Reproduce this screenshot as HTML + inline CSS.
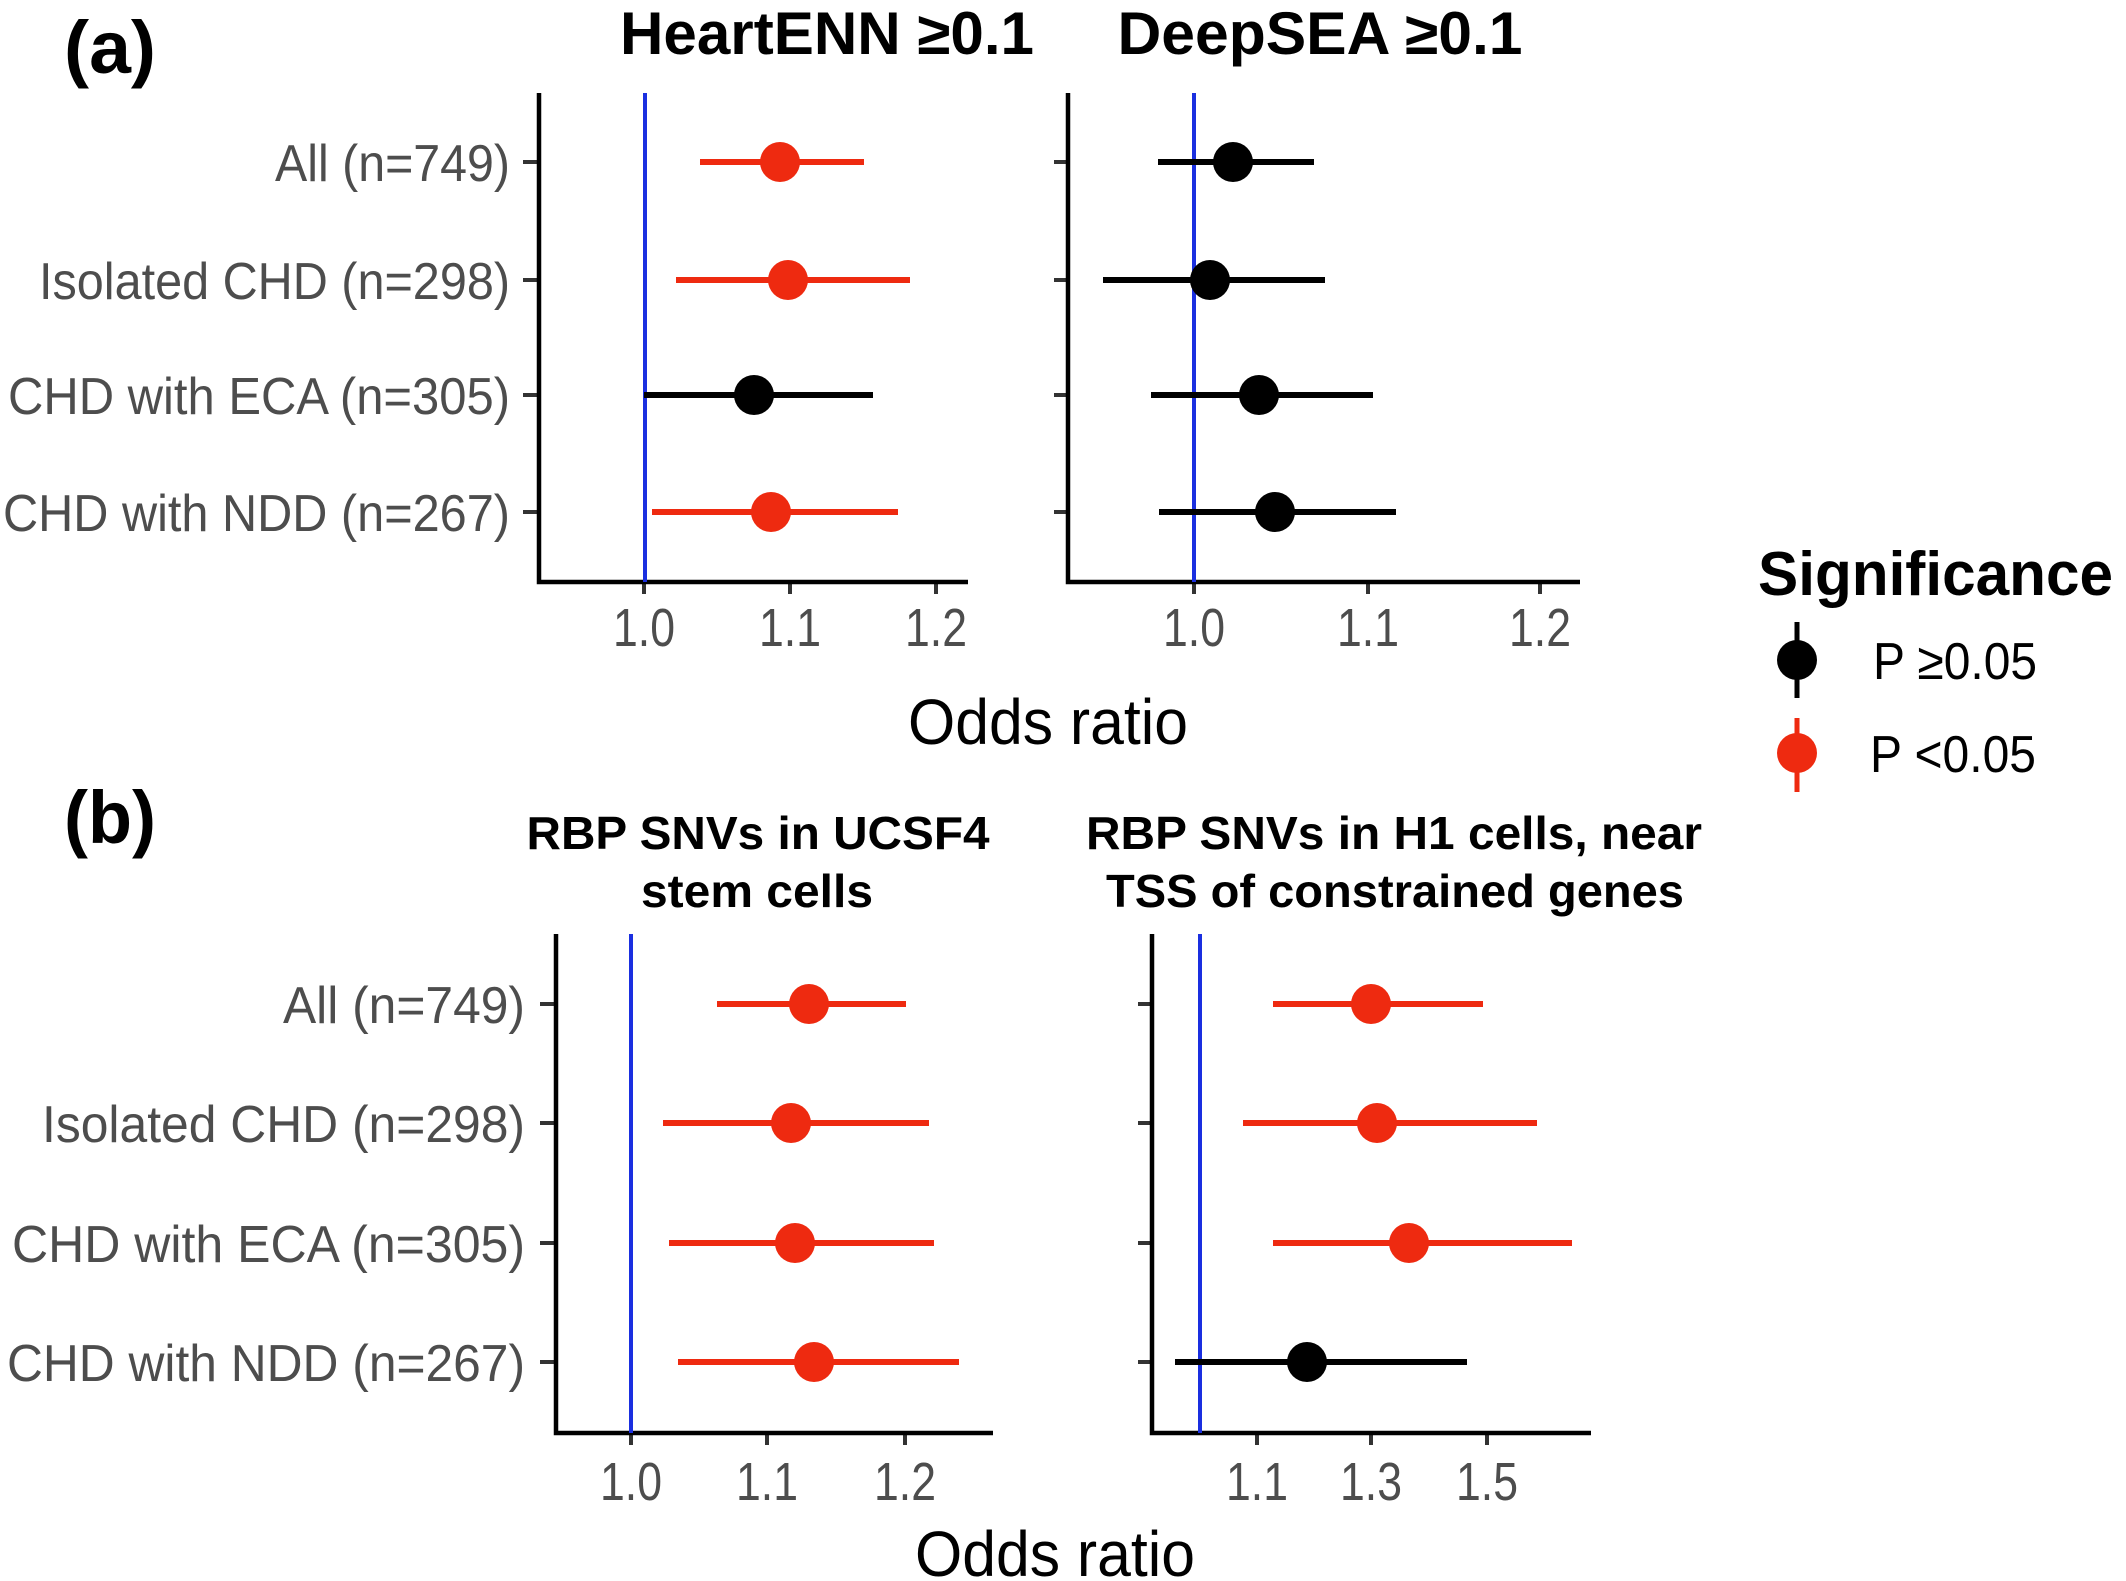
<!DOCTYPE html>
<html><head><meta charset="utf-8"><style>html,body{margin:0;padding:0;background:#fff}svg{display:block}</style></head><body>
<svg width="2126" height="1581" viewBox="0 0 2126 1581" xmlns="http://www.w3.org/2000/svg" font-family="Liberation Sans, Arial, sans-serif">
<rect width="2126" height="1581" fill="#fff"/>
<!-- (a) -->
<text x="64" y="73" font-size="74" font-weight="bold" fill="#000" textLength="92" lengthAdjust="spacingAndGlyphs">(a)</text>
<text x="827" y="54" font-size="60" font-weight="bold" text-anchor="middle" textLength="414" lengthAdjust="spacingAndGlyphs">HeartENN ≥0.1</text>
<text x="1320" y="54" font-size="60" font-weight="bold" text-anchor="middle" textLength="405" lengthAdjust="spacingAndGlyphs">DeepSEA ≥0.1</text>
<g fill="#4d4d4d" font-size="52" text-anchor="end">
<text x="510" y="181" textLength="235" lengthAdjust="spacingAndGlyphs">All (n=749)</text>
<text x="510" y="299" textLength="471" lengthAdjust="spacingAndGlyphs">Isolated CHD (n=298)</text>
<text x="510" y="414" textLength="502" lengthAdjust="spacingAndGlyphs">CHD with ECA (n=305)</text>
<text x="510" y="531" textLength="507" lengthAdjust="spacingAndGlyphs">CHD with NDD (n=267)</text>
</g>
<g stroke="#333" stroke-width="4">
<line x1="523" y1="162" x2="539" y2="162"/><line x1="523" y1="280" x2="539" y2="280"/><line x1="523" y1="395" x2="539" y2="395"/><line x1="523" y1="512" x2="539" y2="512"/>
<line x1="644" y1="582" x2="644" y2="594"/><line x1="790" y1="582" x2="790" y2="594"/><line x1="936" y1="582" x2="936" y2="594"/>
<line x1="1054" y1="162" x2="1068" y2="162"/><line x1="1054" y1="280" x2="1068" y2="280"/><line x1="1054" y1="395" x2="1068" y2="395"/><line x1="1054" y1="512" x2="1068" y2="512"/>
<line x1="1194" y1="582" x2="1194" y2="594"/><line x1="1368" y1="582" x2="1368" y2="594"/><line x1="1540" y1="582" x2="1540" y2="594"/>
</g>
<g stroke="#000" stroke-width="4.5" fill="none">
<polyline points="539,93 539,582 968,582"/>
<polyline points="1068,93 1068,582 1580,582"/>
</g>
<line x1="645" y1="93" x2="645" y2="582" stroke="#1a2fe0" stroke-width="4"/>
<line x1="1194" y1="93" x2="1194" y2="582" stroke="#1a2fe0" stroke-width="4"/>
<g fill="#4d4d4d" font-size="54" text-anchor="middle">
<text x="644" y="646" textLength="62" lengthAdjust="spacingAndGlyphs">1.0</text><text x="790" y="646" textLength="62" lengthAdjust="spacingAndGlyphs">1.1</text><text x="936" y="646" textLength="62" lengthAdjust="spacingAndGlyphs">1.2</text>
<text x="1194" y="646" textLength="62" lengthAdjust="spacingAndGlyphs">1.0</text><text x="1368" y="646" textLength="62" lengthAdjust="spacingAndGlyphs">1.1</text><text x="1540" y="646" textLength="62" lengthAdjust="spacingAndGlyphs">1.2</text>
</g>
<g stroke-width="6">
<line x1="700" y1="162" x2="864" y2="162" stroke="#ee2a10"/>
<line x1="676" y1="280" x2="910" y2="280" stroke="#ee2a10"/>
<line x1="644" y1="395" x2="873" y2="395" stroke="#000"/>
<line x1="652" y1="512" x2="898" y2="512" stroke="#ee2a10"/>
<line x1="1158" y1="162" x2="1314" y2="162" stroke="#000"/>
<line x1="1103" y1="280" x2="1325" y2="280" stroke="#000"/>
<line x1="1151" y1="395" x2="1373" y2="395" stroke="#000"/>
<line x1="1159" y1="512" x2="1396" y2="512" stroke="#000"/>
</g>
<g>
<circle cx="780" cy="162" r="20" fill="#ee2a10"/>
<circle cx="788" cy="280" r="20" fill="#ee2a10"/>
<circle cx="754" cy="395" r="20" fill="#000"/>
<circle cx="771" cy="512" r="20" fill="#ee2a10"/>
<circle cx="1233" cy="162" r="20" fill="#000"/>
<circle cx="1210" cy="280" r="20" fill="#000"/>
<circle cx="1259" cy="395" r="20" fill="#000"/>
<circle cx="1275" cy="512" r="20" fill="#000"/>
</g>
<text x="908" y="744" font-size="64" textLength="280" lengthAdjust="spacingAndGlyphs">Odds ratio</text>
<!-- legend -->
<text x="1758" y="595" font-size="62" font-weight="bold" textLength="355" lengthAdjust="spacingAndGlyphs">Significance</text>
<line x1="1797" y1="622" x2="1797" y2="698" stroke="#000" stroke-width="5"/>
<circle cx="1797" cy="660" r="20" fill="#000"/>
<text x="1873" y="679" font-size="52" fill="#000" textLength="164" lengthAdjust="spacingAndGlyphs">P ≥0.05</text>
<line x1="1797" y1="718" x2="1797" y2="792" stroke="#ee2a10" stroke-width="5"/>
<circle cx="1797" cy="753" r="20" fill="#ee2a10"/>
<text x="1870" y="772" font-size="52" fill="#000" textLength="166" lengthAdjust="spacingAndGlyphs">P &lt;0.05</text>
<!-- (b) -->
<text x="64" y="843" font-size="74" font-weight="bold" fill="#000" textLength="92" lengthAdjust="spacingAndGlyphs">(b)</text>
<g font-size="46" font-weight="bold" text-anchor="middle">
<text x="758" y="849" textLength="463" lengthAdjust="spacingAndGlyphs">RBP SNVs in UCSF4</text>
<text x="757" y="907" textLength="232" lengthAdjust="spacingAndGlyphs">stem cells</text>
<text x="1394" y="849" textLength="616" lengthAdjust="spacingAndGlyphs">RBP SNVs in H1 cells, near</text>
<text x="1395" y="907" textLength="578" lengthAdjust="spacingAndGlyphs">TSS of constrained genes</text>
</g>
<g fill="#4d4d4d" font-size="52" text-anchor="end">
<text x="525" y="1023" textLength="242" lengthAdjust="spacingAndGlyphs">All (n=749)</text>
<text x="525" y="1142" textLength="483" lengthAdjust="spacingAndGlyphs">Isolated CHD (n=298)</text>
<text x="525" y="1262" textLength="513" lengthAdjust="spacingAndGlyphs">CHD with ECA (n=305)</text>
<text x="525" y="1381" textLength="518" lengthAdjust="spacingAndGlyphs">CHD with NDD (n=267)</text>
</g>
<g stroke="#333" stroke-width="4">
<line x1="540" y1="1004" x2="556" y2="1004"/><line x1="540" y1="1123" x2="556" y2="1123"/><line x1="540" y1="1243" x2="556" y2="1243"/><line x1="540" y1="1362" x2="556" y2="1362"/>
<line x1="631" y1="1433" x2="631" y2="1445"/><line x1="767" y1="1433" x2="767" y2="1445"/><line x1="905" y1="1433" x2="905" y2="1445"/>
<line x1="1138" y1="1004" x2="1152" y2="1004"/><line x1="1138" y1="1123" x2="1152" y2="1123"/><line x1="1138" y1="1243" x2="1152" y2="1243"/><line x1="1138" y1="1362" x2="1152" y2="1362"/>
<line x1="1257" y1="1433" x2="1257" y2="1445"/><line x1="1371" y1="1433" x2="1371" y2="1445"/><line x1="1487" y1="1433" x2="1487" y2="1445"/>
</g>
<g stroke="#000" stroke-width="4.5" fill="none">
<polyline points="556,934 556,1433 993,1433"/>
<polyline points="1152,934 1152,1433 1591,1433"/>
</g>
<line x1="631" y1="934" x2="631" y2="1433" stroke="#1a2fe0" stroke-width="4"/>
<line x1="1200" y1="934" x2="1200" y2="1433" stroke="#1a2fe0" stroke-width="4"/>
<g fill="#4d4d4d" font-size="54" text-anchor="middle">
<text x="631" y="1500" textLength="62" lengthAdjust="spacingAndGlyphs">1.0</text><text x="767" y="1500" textLength="62" lengthAdjust="spacingAndGlyphs">1.1</text><text x="905" y="1500" textLength="62" lengthAdjust="spacingAndGlyphs">1.2</text>
<text x="1257" y="1500" textLength="62" lengthAdjust="spacingAndGlyphs">1.1</text><text x="1371" y="1500" textLength="62" lengthAdjust="spacingAndGlyphs">1.3</text><text x="1487" y="1500" textLength="62" lengthAdjust="spacingAndGlyphs">1.5</text>
</g>
<g stroke-width="6">
<line x1="717" y1="1004" x2="906" y2="1004" stroke="#ee2a10"/>
<line x1="663" y1="1123" x2="929" y2="1123" stroke="#ee2a10"/>
<line x1="669" y1="1243" x2="934" y2="1243" stroke="#ee2a10"/>
<line x1="678" y1="1362" x2="959" y2="1362" stroke="#ee2a10"/>
<line x1="1273" y1="1004" x2="1483" y2="1004" stroke="#ee2a10"/>
<line x1="1243" y1="1123" x2="1537" y2="1123" stroke="#ee2a10"/>
<line x1="1273" y1="1243" x2="1572" y2="1243" stroke="#ee2a10"/>
<line x1="1175" y1="1362" x2="1467" y2="1362" stroke="#000"/>
</g>
<g>
<circle cx="809" cy="1004" r="20" fill="#ee2a10"/>
<circle cx="791" cy="1123" r="20" fill="#ee2a10"/>
<circle cx="795" cy="1243" r="20" fill="#ee2a10"/>
<circle cx="814" cy="1362" r="20" fill="#ee2a10"/>
<circle cx="1371" cy="1004" r="20" fill="#ee2a10"/>
<circle cx="1377" cy="1123" r="20" fill="#ee2a10"/>
<circle cx="1409" cy="1243" r="20" fill="#ee2a10"/>
<circle cx="1307" cy="1362" r="20" fill="#000"/>
</g>
<text x="915" y="1576" font-size="64" textLength="280" lengthAdjust="spacingAndGlyphs">Odds ratio</text>
</svg>
</body></html>
